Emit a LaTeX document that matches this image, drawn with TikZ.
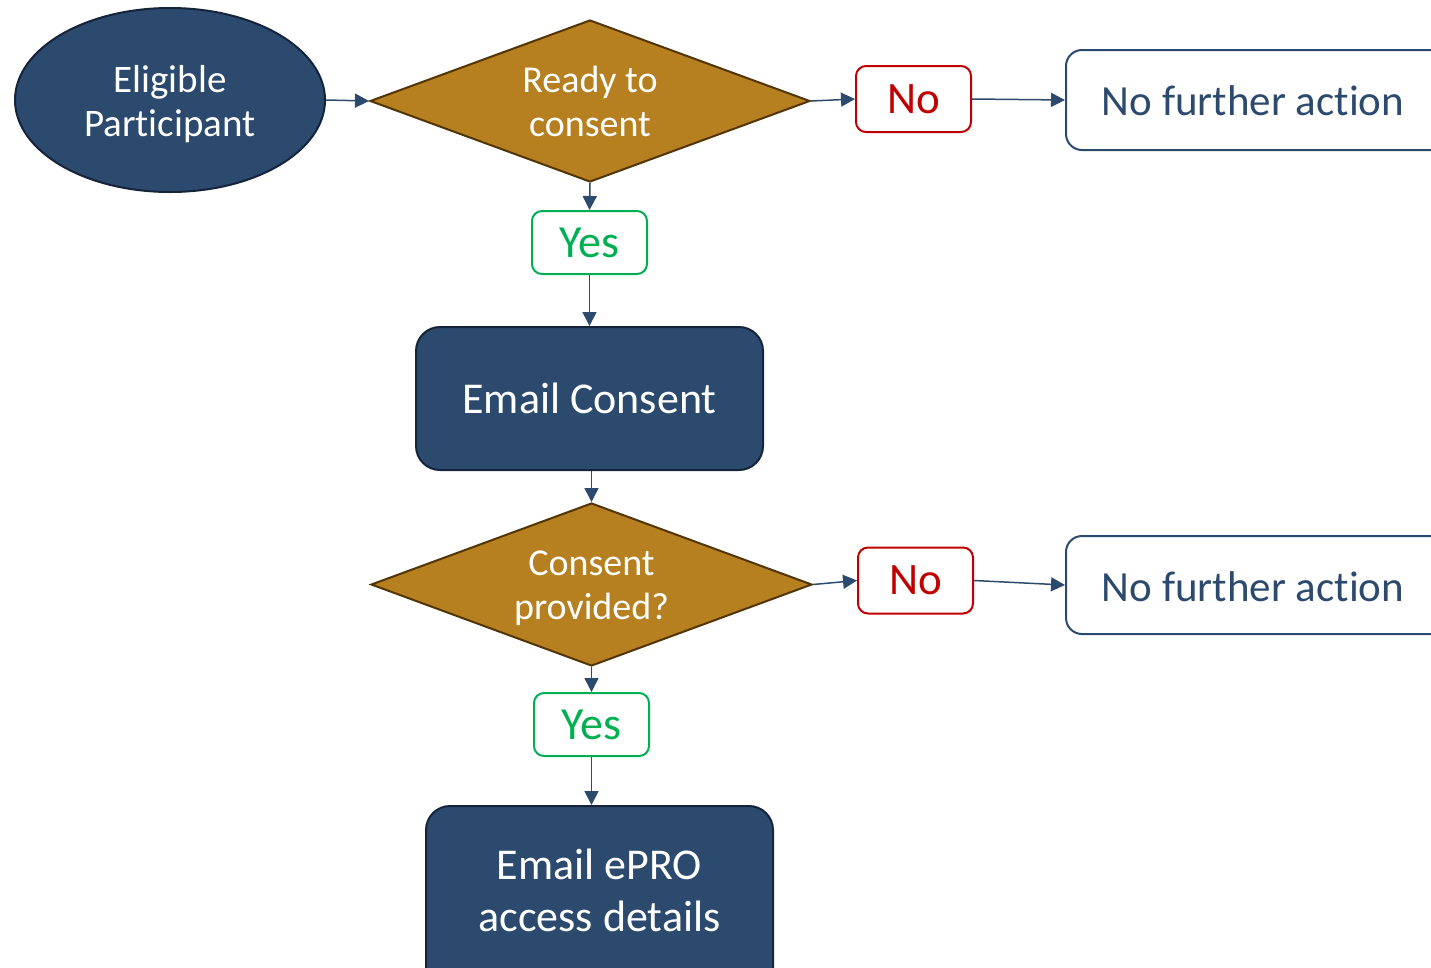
\documentclass[tikz,border=0pt]{standalone}
\usepackage{fontspec}
\setmainfont{Carlito}[Ligatures=NoCommon]
\usetikzlibrary{shapes.geometric,arrows.meta}
\definecolor{navy}{HTML}{2C4A6E}
\definecolor{navyedge}{HTML}{14243A}
\definecolor{gold}{HTML}{B67F20}
\definecolor{goldedge}{HTML}{523505}
\definecolor{nored}{HTML}{C00000}
\definecolor{yesgreen}{HTML}{00B050}
\tikzset{
  x=1pt, y=-1pt,
  startnode/.style={ellipse, draw=navyedge, line width=2pt, fill=navy, text=white,
    minimum width=310, minimum height=184, inner sep=0, align=center,
    font=\fontsize{39}{44}\selectfont},
  decide/.style={diamond, draw=goldedge, line width=2pt, fill=gold, text=white,
    aspect=2.7, inner sep=0, align=center, font=\fontsize{38}{44}\selectfont},
  task/.style={rectangle, rounded corners=24, draw=navyedge, line width=2pt, fill=navy,
    text=white, align=center, font=\fontsize{44}{52}\selectfont},
  nobox/.style={rectangle, rounded corners=10, draw=nored, line width=2pt, text=nored,
    minimum width=115, minimum height=66, font=\fontsize{45}{48}\selectfont},
  yesbox/.style={rectangle, rounded corners=10, draw=yesgreen, line width=2pt, text=yesgreen,
    minimum width=115, minimum height=63, font=\fontsize{46}{48}\selectfont},
  endbox/.style={rectangle, rounded corners=16, draw=navy, line width=2pt, text=navy,
    fill=white, font=\fontsize{43}{48}\selectfont},
  flow/.style={draw=navy, line width=1.5pt, -{Triangle[length=14pt,width=14pt]}},
}
\begin{document}
\begin{tikzpicture}
\useasboundingbox (0,0) rectangle (1431,967);
\clip (0,0) rectangle (1431,967);

% shapes of the flow
\node[startnode] (start) at (170,100) {};
\node[text=white, align=center, font=\fontsize{39}{44}\selectfont] (startt) at (170,104) {Eligible\\Participant};
\node[decide, minimum width=440, minimum height=162] (ready) at (590,101) {};
\node[text=white, align=center, font=\fontsize{38}{44}\selectfont] (readyt) at (590,101) {Ready to\\consent};
\node[nobox] (no1) at (913.5,99) {No};
\node[endbox, minimum width=420, minimum height=100] (end1) at (1276,100) {};
\node[text=navy, font=\fontsize{43}{48}\selectfont] (end1t) at (1253,101) {No further action};
\node[yesbox] (yes1) at (589.5,242.5) {Yes};
\node[task, minimum width=347, minimum height=143] (mail) at (589.5,398.5) {Email Consent};
\node[decide, minimum width=441, minimum height=163] (given) at (591.5,584.5) {};
\node[text=white, align=center, font=\fontsize{38}{44}\selectfont] (givent) at (591.5,588) {Consent\\provided?};
\node[nobox] (no2) at (915.5,580.5) {No};
\node[endbox, minimum width=420, minimum height=98] (end2) at (1276,585) {};
\node[text=navy, font=\fontsize{43}{48}\selectfont] (end2t) at (1253,587) {No further action};
\node[yesbox] (yes2) at (591.5,724.5) {Yes};
\node[task, minimum width=347, minimum height=200] (epro) at (599.5,906) {};
\node[text=white, align=center, font=\fontsize{44}{52}\selectfont] (eprot) at (599.5,890) {Email ePRO\\access details};

% connectors
\draw[flow] (start.east) -- (ready.west);
\draw[flow] (ready.east) -- (no1.west);
\draw[flow] (no1.east) -- (end1.west);
\draw[flow] (ready.south) -- (yes1.north);
\draw[flow] (yes1.south) -- (mail.north -| yes1.south);
\draw[flow] (mail.south -| given.north) -- (given.north);
\draw[flow] (given.east) -- (no2.west);
\draw[flow] (no2.east) -- (end2.west);
\draw[flow] (given.south) -- (yes2.north);
\draw[flow] (yes2.south) -- (epro.north -| yes2.south);
\end{tikzpicture}
\end{document}
